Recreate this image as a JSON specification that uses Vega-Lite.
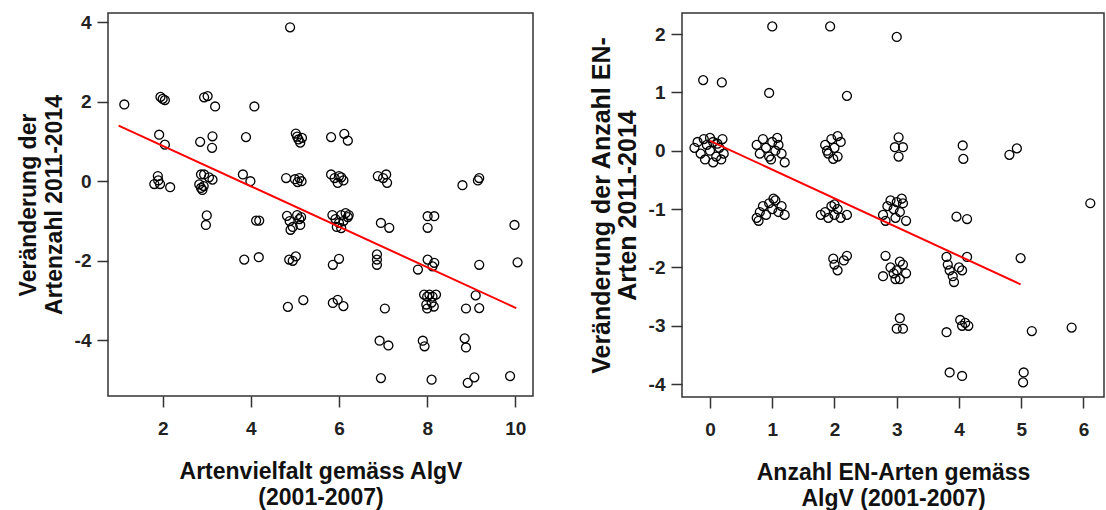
{
  "$schema": "https://vega.github.io/schema/vega-lite/v6.json",
  "padding": {"left": 16, "top": 12, "right": 0, "bottom": 0},
  "background": "white",
  "spacing": 54,
  "datasets": {
    "left": [
      {"x": 1.13, "y": 1.93},
      {"x": 1.95, "y": 2.12}, {"x": 2.0, "y": 2.07}, {"x": 2.05, "y": 2.04}, {"x": 1.92, "y": 1.17}, {"x": 2.05, "y": 0.92}, {"x": 1.89, "y": 0.13}, {"x": 1.81, "y": -0.07}, {"x": 1.94, "y": -0.07}, {"x": 2.17, "y": -0.15}, {"x": 1.9, "y": 0.02},
      {"x": 2.94, "y": 2.11}, {"x": 3.02, "y": 2.14}, {"x": 3.19, "y": 1.88}, {"x": 2.85, "y": 0.99}, {"x": 3.13, "y": 1.13}, {"x": 3.12, "y": 0.84}, {"x": 2.87, "y": 0.17}, {"x": 2.94, "y": 0.17}, {"x": 2.83, "y": -0.08}, {"x": 2.87, "y": -0.17}, {"x": 2.9, "y": -0.22}, {"x": 2.93, "y": -0.12}, {"x": 3.13, "y": 0.04}, {"x": 3.05, "y": 0.1}, {"x": 3.0, "y": -0.86}, {"x": 2.98, "y": -1.1},
      {"x": 3.89, "y": 1.11}, {"x": 4.08, "y": 1.88}, {"x": 3.82, "y": 0.17}, {"x": 3.99, "y": 0.0}, {"x": 4.12, "y": -0.99}, {"x": 4.19, "y": -0.99}, {"x": 3.85, "y": -1.97}, {"x": 4.18, "y": -1.91},
      {"x": 4.89, "y": 3.87}, {"x": 5.02, "y": 1.2}, {"x": 5.05, "y": 1.12}, {"x": 5.08, "y": 1.05}, {"x": 5.12, "y": 0.97}, {"x": 5.16, "y": 1.09}, {"x": 4.8, "y": 0.08}, {"x": 5.0, "y": 0.05}, {"x": 5.06, "y": -0.02}, {"x": 5.1, "y": 0.08}, {"x": 5.15, "y": 0.0},
      {"x": 4.82, "y": -0.87}, {"x": 4.88, "y": -1.0}, {"x": 4.95, "y": -1.15}, {"x": 5.05, "y": -0.85}, {"x": 5.1, "y": -0.95}, {"x": 5.12, "y": -1.1}, {"x": 4.9, "y": -1.22}, {"x": 5.14, "y": -0.9},
      {"x": 4.87, "y": -1.97}, {"x": 4.95, "y": -2.0}, {"x": 5.02, "y": -1.89}, {"x": 4.84, "y": -3.16}, {"x": 5.19, "y": -2.99},
      {"x": 5.82, "y": 1.11}, {"x": 6.12, "y": 1.19}, {"x": 6.2, "y": 1.02}, {"x": 5.82, "y": 0.17}, {"x": 5.9, "y": 0.08}, {"x": 5.97, "y": -0.04}, {"x": 6.05, "y": 0.1}, {"x": 6.1, "y": 0.02}, {"x": 6.0, "y": 0.13},
      {"x": 5.85, "y": -0.85}, {"x": 5.92, "y": -0.95}, {"x": 6.0, "y": -1.05}, {"x": 6.05, "y": -0.85}, {"x": 6.1, "y": -1.0}, {"x": 6.15, "y": -0.8}, {"x": 6.2, "y": -0.9}, {"x": 5.95, "y": -1.15}, {"x": 6.05, "y": -1.18}, {"x": 6.22, "y": -0.85},
      {"x": 5.86, "y": -2.1}, {"x": 6.0, "y": -1.95}, {"x": 5.86, "y": -3.06}, {"x": 5.97, "y": -2.98}, {"x": 6.1, "y": -3.14},
      {"x": 6.88, "y": 0.13}, {"x": 7.07, "y": 0.17}, {"x": 7.09, "y": -0.04}, {"x": 7.0, "y": 0.08}, {"x": 6.95, "y": -1.05}, {"x": 7.14, "y": -1.17}, {"x": 6.86, "y": -1.84}, {"x": 6.86, "y": -1.97}, {"x": 6.86, "y": -2.1}, {"x": 7.04, "y": -3.2}, {"x": 6.92, "y": -4.01}, {"x": 7.12, "y": -4.13}, {"x": 6.95, "y": -4.95},
      {"x": 8.01, "y": -0.88}, {"x": 8.16, "y": -0.88}, {"x": 8.01, "y": -1.17}, {"x": 7.79, "y": -2.22}, {"x": 8.01, "y": -1.97}, {"x": 8.16, "y": -2.05}, {"x": 8.12, "y": -2.14},
      {"x": 7.93, "y": -2.85}, {"x": 8.0, "y": -2.9}, {"x": 8.05, "y": -2.85}, {"x": 8.12, "y": -2.9}, {"x": 8.2, "y": -2.85}, {"x": 7.98, "y": -3.1}, {"x": 8.1, "y": -3.05}, {"x": 8.0, "y": -3.2}, {"x": 8.15, "y": -3.15},
      {"x": 7.9, "y": -4.01}, {"x": 7.94, "y": -4.15}, {"x": 8.1, "y": -4.99},
      {"x": 8.8, "y": -0.1}, {"x": 9.18, "y": 0.08}, {"x": 9.15, "y": 0.02}, {"x": 9.18, "y": -2.1}, {"x": 8.88, "y": -3.2}, {"x": 9.18, "y": -3.19}, {"x": 9.1, "y": -2.87}, {"x": 8.85, "y": -3.95}, {"x": 8.88, "y": -4.18}, {"x": 8.92, "y": -5.07}, {"x": 9.07, "y": -4.93},
      {"x": 9.98, "y": -1.1}, {"x": 10.05, "y": -2.04}, {"x": 9.88, "y": -4.9}
    ],
    "right": [
      {"x": -0.11, "y": 1.21}, {"x": 0.19, "y": 1.17},
      {"x": -0.25, "y": 0.05}, {"x": -0.2, "y": 0.15}, {"x": -0.15, "y": -0.05}, {"x": -0.1, "y": 0.2}, {"x": -0.05, "y": 0.1}, {"x": 0.0, "y": 0.0}, {"x": 0.05, "y": 0.15}, {"x": 0.1, "y": -0.1}, {"x": 0.15, "y": 0.05}, {"x": 0.2, "y": 0.2}, {"x": 0.22, "y": -0.05}, {"x": -0.08, "y": -0.15}, {"x": 0.05, "y": -0.2}, {"x": 0.12, "y": 0.12}, {"x": 0.0, "y": 0.22}, {"x": 0.18, "y": -0.15},
      {"x": 1.0, "y": 2.13}, {"x": 0.95, "y": 0.99},
      {"x": 0.75, "y": 0.1}, {"x": 0.8, "y": -0.05}, {"x": 0.85, "y": 0.2}, {"x": 0.9, "y": 0.05}, {"x": 0.95, "y": -0.1}, {"x": 1.0, "y": 0.15}, {"x": 1.05, "y": 0.0}, {"x": 1.1, "y": 0.1}, {"x": 1.15, "y": -0.05}, {"x": 1.2, "y": -0.2}, {"x": 0.98, "y": -0.15}, {"x": 1.08, "y": 0.22},
      {"x": 0.75, "y": -1.15}, {"x": 0.8, "y": -1.05}, {"x": 0.85, "y": -0.95}, {"x": 0.9, "y": -1.1}, {"x": 0.95, "y": -0.9}, {"x": 1.0, "y": -1.0}, {"x": 1.05, "y": -0.85}, {"x": 1.1, "y": -1.05}, {"x": 1.15, "y": -0.95}, {"x": 1.2, "y": -1.1}, {"x": 0.78, "y": -1.2}, {"x": 1.02, "y": -0.82},
      {"x": 1.93, "y": 2.13}, {"x": 2.2, "y": 0.94},
      {"x": 1.85, "y": 0.1}, {"x": 1.9, "y": -0.05}, {"x": 1.95, "y": 0.2}, {"x": 2.0, "y": 0.05}, {"x": 2.05, "y": -0.1}, {"x": 2.1, "y": 0.15}, {"x": 1.98, "y": -0.14}, {"x": 2.05, "y": 0.25}, {"x": 1.88, "y": 0.0},
      {"x": 1.78, "y": -1.1}, {"x": 1.85, "y": -1.05}, {"x": 1.9, "y": -1.15}, {"x": 1.95, "y": -0.95}, {"x": 2.0, "y": -1.1}, {"x": 2.05, "y": -1.0}, {"x": 2.1, "y": -1.15}, {"x": 2.2, "y": -1.1}, {"x": 2.0, "y": -0.92},
      {"x": 1.98, "y": -1.85}, {"x": 2.0, "y": -1.95}, {"x": 2.05, "y": -2.05}, {"x": 2.15, "y": -1.88}, {"x": 2.2, "y": -1.8},
      {"x": 3.0, "y": 1.95}, {"x": 3.03, "y": 0.23}, {"x": 2.97, "y": 0.06}, {"x": 3.1, "y": 0.06}, {"x": 3.03, "y": -0.1},
      {"x": 2.78, "y": -1.1}, {"x": 2.82, "y": -1.2}, {"x": 2.85, "y": -0.95}, {"x": 2.9, "y": -0.85}, {"x": 2.95, "y": -1.0}, {"x": 3.0, "y": -0.88}, {"x": 3.05, "y": -1.05}, {"x": 3.1, "y": -0.9}, {"x": 3.15, "y": -1.2}, {"x": 2.98, "y": -1.15}, {"x": 3.08, "y": -0.82},
      {"x": 2.78, "y": -2.15}, {"x": 2.82, "y": -1.8}, {"x": 2.9, "y": -2.0}, {"x": 2.95, "y": -2.1}, {"x": 3.0, "y": -2.05}, {"x": 3.05, "y": -2.2}, {"x": 3.1, "y": -1.95}, {"x": 3.15, "y": -2.1}, {"x": 2.98, "y": -2.2}, {"x": 3.05, "y": -1.9},
      {"x": 3.05, "y": -2.87}, {"x": 3.0, "y": -3.05}, {"x": 3.1, "y": -3.05},
      {"x": 4.06, "y": 0.09}, {"x": 4.07, "y": -0.14}, {"x": 3.96, "y": -1.13}, {"x": 4.13, "y": -1.17},
      {"x": 3.8, "y": -1.82}, {"x": 3.82, "y": -1.95}, {"x": 3.85, "y": -2.05}, {"x": 3.9, "y": -2.15}, {"x": 3.92, "y": -2.25}, {"x": 4.0, "y": -2.0}, {"x": 4.05, "y": -2.05}, {"x": 4.13, "y": -1.82},
      {"x": 3.8, "y": -3.11}, {"x": 4.02, "y": -2.9}, {"x": 4.05, "y": -3.0}, {"x": 4.1, "y": -2.95}, {"x": 4.15, "y": -3.0}, {"x": 3.85, "y": -3.8}, {"x": 4.05, "y": -3.86},
      {"x": 4.81, "y": -0.07}, {"x": 4.93, "y": 0.04}, {"x": 4.99, "y": -1.84}, {"x": 5.04, "y": -3.8}, {"x": 5.03, "y": -3.97}, {"x": 5.17, "y": -3.09},
      {"x": 5.81, "y": -3.03}, {"x": 6.11, "y": -0.9}
    ],
    "leftline": [{"x": 1.0, "y": 1.4}, {"x": 10.02, "y": -3.19}],
    "rightline": [{"x": 0.0, "y": 0.17}, {"x": 4.99, "y": -2.29}]
  },
  "hconcat": [
    {
      "width": 425,
      "height": 383,
      "layer": [
        {
          "data": {"name": "left"},
          "mark": {"type": "point", "shape": "circle", "filled": false, "color": "black", "size": 80, "strokeWidth": 1.3, "opacity": 1},
          "encoding": {
            "x": {"field": "x", "type": "quantitative", "scale": {"domain": [0.76, 10.4], "nice": false, "zero": false},
                  "axis": {"values": [2, 4, 6, 8, 10], "labelExpr": "'' + datum.value", "title": ["Artenvielfalt gemäss AlgV", "(2001-2007)"]}},
            "y": {"field": "y", "type": "quantitative", "scale": {"domain": [-5.4, 4.23], "nice": false, "zero": false},
                  "axis": {"values": [-4, -2, 0, 2, 4], "labelExpr": "'' + datum.value", "title": ["Veränderung der", "Artenzahl 2011-2014"]}}
          }
        },
        {
          "data": {"name": "leftline"},
          "mark": {"type": "line", "color": "red", "strokeWidth": 2},
          "encoding": {
            "x": {"field": "x", "type": "quantitative"},
            "y": {"field": "y", "type": "quantitative"}
          }
        }
      ]
    },
    {
      "width": 422,
      "height": 384,
      "layer": [
        {
          "data": {"name": "right"},
          "mark": {"type": "point", "shape": "circle", "filled": false, "color": "black", "size": 80, "strokeWidth": 1.3, "opacity": 1},
          "encoding": {
            "x": {"field": "x", "type": "quantitative", "scale": {"domain": [-0.45, 6.33], "nice": false, "zero": false},
                  "axis": {"values": [0, 1, 2, 3, 4, 5, 6], "labelExpr": "'' + datum.value", "title": ["Anzahl EN-Arten gemäss", "AlgV (2001-2007)"]}},
            "y": {"field": "y", "type": "quantitative", "scale": {"domain": [-4.22, 2.36], "nice": false, "zero": false},
                  "axis": {"values": [-4, -3, -2, -1, 0, 1, 2], "labelExpr": "'' + datum.value", "titleFontSize": 25, "titleLineHeight": 26, "title": ["Veränderung der Anzahl EN-", "Arten 2011-2014"]}}
          }
        },
        {
          "data": {"name": "rightline"},
          "mark": {"type": "line", "color": "red", "strokeWidth": 2},
          "encoding": {
            "x": {"field": "x", "type": "quantitative"},
            "y": {"field": "y", "type": "quantitative"}
          }
        }
      ]
    }
  ],
  "config": {
    "view": {"stroke": "#333333", "strokeWidth": 1.5},
    "font": "Liberation Sans",
    "axis": {
      "grid": false,
      "domain": false,
      "tickColor": "#333333",
      "tickWidth": 1.5,
      "tickSize": 11,
      "labelFont": "Liberation Sans",
      "labelFontSize": 19,
      "labelFontWeight": "bold",
      "labelColor": "#222222",
      "labelPadding": 6,
      "titleFont": "Liberation Sans",
      "titleFontSize": 23,
      "titleFontWeight": "bold",
      "titleColor": "#111111",
      "titleLineHeight": 26
    },
    "axisX": {"labelPadding": 12, "titlePadding": 22},
    "axisY": {"titlePadding": 8}
  }
}
